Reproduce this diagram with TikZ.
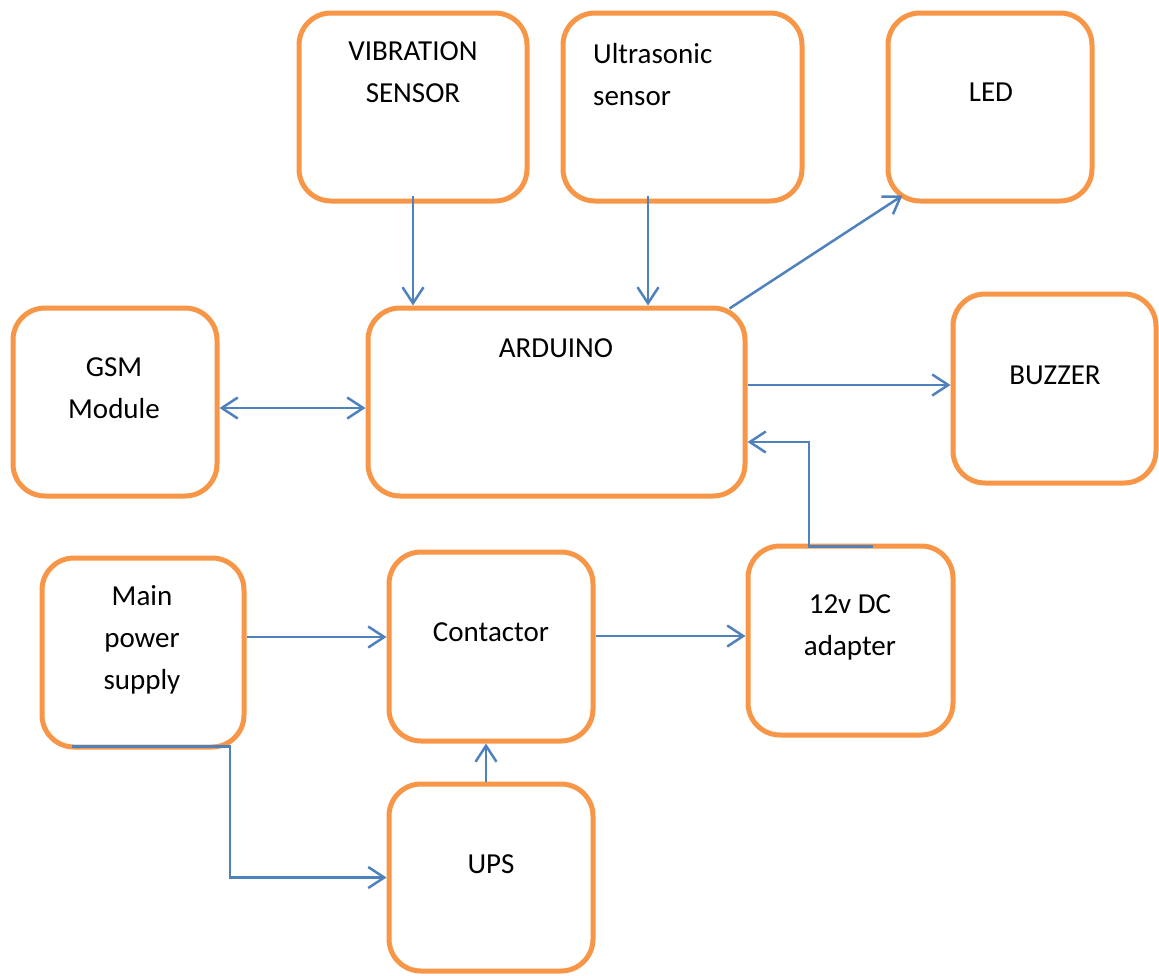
\documentclass[tikz,border=0pt]{standalone}
\usepackage{fontspec}
\setmainfont{Carlito}
\usetikzlibrary{arrows.meta}
\definecolor{boxorange}{HTML}{F79646}
\definecolor{arrowblue}{HTML}{4F81BD}
\tikzset{
  blk/.style={draw=boxorange, line width=5pt, rounded corners=32pt, fill=white, inner sep=0pt},
  lbl/.style={font=\fontsize{29}{42}\selectfont, inner sep=0pt, text=black},
  conn/.style={draw=arrowblue, line width=2.5pt, -{Straight Barb[length=16pt,width=21pt,line width=2.5pt]}},
}
\begin{document}
\begin{tikzpicture}[x=1pt,y=1pt]
\useasboundingbox (0,0) rectangle (1159,-975);
% boxes
\node[blk, minimum width=228pt, minimum height=188pt] (vib) at (413,-107) {};
\node[blk, minimum width=239pt, minimum height=188pt] (ult) at (682.5,-107) {};
\node[blk, minimum width=204pt, minimum height=188pt] (led) at (990,-107) {};
\node[blk, minimum width=204pt, minimum height=188pt] (gsm) at (115,-402) {};
\node[blk, minimum width=377pt, minimum height=188pt] (ard) at (556.5,-402) {};
\node[blk, minimum width=203pt, minimum height=189pt] (buz) at (1054.5,-388.5) {};
\node[blk, minimum width=202pt, minimum height=189pt] (main) at (143,-652.5) {};
\node[blk, minimum width=204pt, minimum height=189pt] (con) at (491,-646.5) {};
\node[blk, minimum width=205pt, minimum height=189pt] (dc) at (850.5,-640.5) {};
\node[blk, minimum width=204pt, minimum height=187pt] (ups) at (491,-877.5) {};
% labels
\node[lbl, align=center] (tvib) at (413,-72) {VIBRATION\\SENSOR};
\node[lbl, align=left, anchor=west] (tult) at (593,-75) {Ultrasonic\\sensor};
\node[lbl] (tled) at (991,-92) {LED};
\node[lbl, align=center] (tgsm) at (114,-388) {GSM\\Module};
\node[lbl] (tard) at (556,-348) {ARDUINO};
\node[lbl] (tbuz) at (1055,-375) {BUZZER};
\node[lbl, align=center] (tmain) at (142,-640) {Main\\power\\supply};
\node[lbl] (tcon) at (491,-632) {Contactor};
\node[lbl, align=center] (tdc) at (850,-627) {12v DC\\adapter};
\node[lbl] (tups) at (491,-864) {UPS};
% connectors
\draw[conn] ([yshift=8pt]vib.south) -- (ard.north -| vib.south);
\draw[conn] ([xshift=-34.5pt,yshift=8pt]ult.south) -- ([xshift=-34.5pt]ult.south |- ard.north);
\draw[conn] ([xshift=-18pt,yshift=-3pt]ard.north east) -- ([xshift=17pt,yshift=8pt]led.south west);
\draw[conn, {Straight Barb[length=16pt,width=21pt,line width=2.5pt]}-{Straight Barb[length=16pt,width=21pt,line width=2.5pt]}] ([yshift=-6pt]gsm.east) -- ([yshift=-6pt]ard.west);
\draw[conn] ([yshift=17pt]ard.east) -- ([yshift=17pt]ard.east -| buz.west);
\draw[conn] ([xshift=22pt,yshift=-3pt]dc.north) -- ([xshift=-41.5pt,yshift=-3pt]dc.north) |- ([yshift=-40pt]ard.east);
\draw[conn] ([yshift=15.5pt]main.east) -- ([yshift=15.5pt]main.east -| con.west);
\draw[conn] ([yshift=10.5pt]con.east) -- ([yshift=10.5pt]con.east -| dc.west);
\draw[conn] ([xshift=-5pt]ups.north) -- ([xshift=-5pt]ups.north |- con.south);
\draw[conn] ([xshift=-71pt,yshift=3pt]main.south) -- ([xshift=87pt,yshift=3pt]main.south) |- (ups.west);
\end{tikzpicture}
\end{document}
